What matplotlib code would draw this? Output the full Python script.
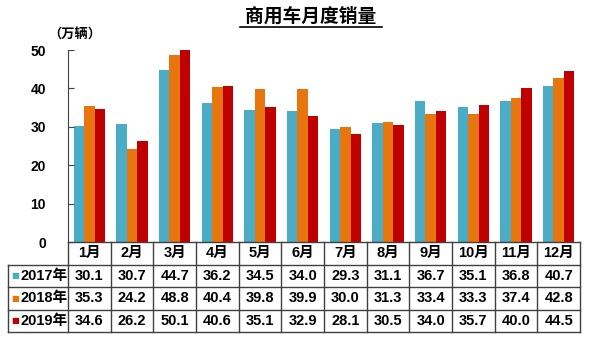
import matplotlib
matplotlib.use("Agg")
import matplotlib.pyplot as plt
import matplotlib.transforms as mtransforms
import numpy as np

plt.rcParams['font.family'] = ['Liberation Sans', 'Noto Sans CJK SC', 'DejaVu Sans']

months = ['1月', '2月', '3月', '4月', '5月', '6月', '7月', '8月', '9月', '10月', '11月', '12月']
years = ['2017年', '2018年', '2019年']
sales_2017 = [30.1, 30.7, 44.7, 36.2, 34.5, 34.0, 29.3, 31.1, 36.7, 35.1, 36.8, 40.7]
sales_2018 = [35.3, 24.2, 48.8, 40.4, 39.8, 39.9, 30.0, 31.3, 33.4, 33.3, 37.4, 42.8]
sales_2019 = [34.6, 26.2, 50.1, 40.6, 35.1, 32.9, 28.1, 30.5, 34.0, 35.7, 40.0, 44.5]
colors = ['#4BACC6', '#E8760F', '#C00000']

series = [sales_2017, sales_2018, sales_2019]

fig = plt.figure(figsize=(6.0, 3.51), dpi=100)
ax = fig.add_axes([68 / 600, 1 - 242 / 351, 512 / 600, 192 / 351])

x = np.arange(len(months))
w = 0.245
for i, (vals, c) in enumerate(zip(series, colors)):
    ax.bar(x + (i - 1) * w, vals, width=w, color=c, edgecolor='none')

ax.set_xlim(-0.5, len(months) - 0.5)
ax.set_ylim(0, 50)
ax.set_yticks(range(0, 51, 10))
ax.tick_params(axis='y', labelsize=10, length=4, direction='in', pad=16, color='#404040')
for lab in ax.get_yticklabels():
    lab.set_fontweight('bold')
ax.set_xticks([])
for s in ['top', 'right', 'bottom']:
    ax.spines[s].set_visible(False)
ax.spines['left'].set_color('#404040')

# data table under the bars
trans = mtransforms.blended_transform_factory(ax.transData, ax.transAxes)
row_h = 22.5 / 192
left_edge = -0.5 - 60 / (512 / 12)
n_rows = len(years) + 1
line_kw = dict(color='#404040', lw=1.0, transform=trans, clip_on=False)
# horizontal lines
for r in range(n_rows + 1):
    y = -r * row_h
    x0 = -0.5 if r == 0 else left_edge
    ax.plot([x0, len(months) - 0.5], [y, y], **line_kw)
# vertical lines
for k in range(len(months) + 1):
    ax.plot([k - 0.5, k - 0.5], [0, -n_rows * row_h], **line_kw)
ax.plot([left_edge, left_edge], [-row_h, -n_rows * row_h], **line_kw)

txt_kw = dict(transform=trans, ha='center', va='center', fontsize=10.5,
              fontweight='bold', clip_on=False)
for k, m in enumerate(months):
    ax.text(k, -0.5 * row_h, m, **txt_kw)
for r, (yr, vals, c) in enumerate(zip(years, series, colors)):
    yc = -(r + 1.5) * row_h
    for k, v in enumerate(vals):
        ax.text(k, yc, f'{v:.1f}', **txt_kw)
    ax.text(left_edge + 0.08, yc, '■', color=c, transform=trans, ha='left',
            va='center', fontsize=6, clip_on=False, family=['DejaVu Sans'])
    ax.text(left_edge + 0.3, yc, yr, transform=trans, ha='left', va='center',
            fontsize=10.5, fontweight='bold', clip_on=False)

fig.text(75 / 600, 1 - 35 / 351, '（万辆）', ha='center', va='center',
         fontsize=9.5, fontweight='bold')
title = fig.text(311 / 600, 1 - 16 / 351, '商用车月度销量', ha='center', va='center',
                 fontsize=13.5, fontweight='bold')
fig.lines.append(plt.Line2D([240 / 600, 382 / 600], [1 - 27 / 351, 1 - 27 / 351],
                            color='black', lw=1.2, transform=fig.transFigure))

fig.savefig('out.png', dpi=100)
